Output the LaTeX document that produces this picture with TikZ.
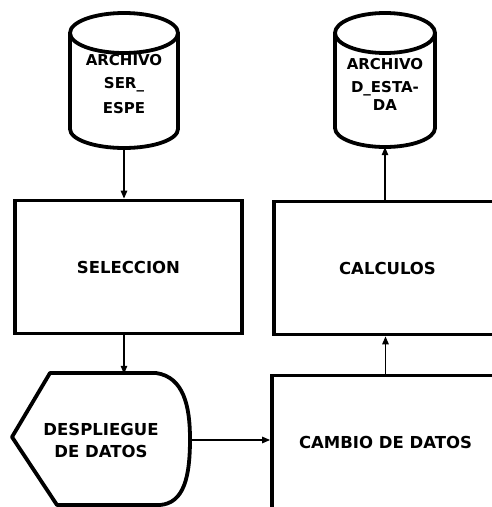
\documentclass[tikz,border=0pt]{standalone}
\usepackage{fontspec}
\setmainfont{DejaVu Sans}
\usetikzlibrary{arrows.meta}
\begin{document}
\begin{tikzpicture}[x=1pt,y=1pt,
  shapeline/.style={line width=3.8pt, line join=round},
  boxnode/.style={draw, line width=3.8pt, minimum width=227pt, minimum height=133pt, inner sep=0pt,
     font=\fontsize{16.5}{20}\selectfont\bfseries, align=center},
  ghost/.style={inner sep=0pt, font=\fontsize{16.5}{20}\selectfont\bfseries, align=center},
  cyltext/.style={inner sep=0pt, font=\fontsize{15}{19}\selectfont\bfseries, align=center},
  conn/.style={line width=1.3pt, -{Triangle[length=8pt,width=6.5pt]}}]
\useasboundingbox (0,0) rectangle (492,507);
\clip (0,0) rectangle (492,507);
% cylinder 1
\draw[shapeline] (124,474) ellipse [x radius=54, y radius=20];
\draw[shapeline] (70,474) -- (70,378) arc [start angle=180, end angle=360, x radius=54, y radius=19] -- (178,474);
\node[cyltext, minimum width=108pt, minimum height=135pt] (cyl1) at (124,426.5) {};
\node[cyltext] (t1) at (124,423) {ARCHIVO\\[4pt]SER\_\\[6pt]ESPE};
% cylinder 2
\draw[shapeline] (385,474) ellipse [x radius=50, y radius=20];
\draw[shapeline] (335,474) -- (335,379) arc [start angle=180, end angle=360, x radius=50, y radius=19] -- (435,474);
\node[cyltext, minimum width=100pt, minimum height=134pt] (cyl2) at (385,427) {};
\node[cyltext] (t2) at (385,423) {ARCHIVO\\[4pt]D\_ESTA-\\[-1pt]DA};
% boxes
\node[boxnode] (sel) at (128.5,240) {SELECCION};
\node[boxnode] (calc) at (387.5,239) {CALCULOS};
\node[boxnode] (cam) at (385.5,65) {CAMBIO DE DATOS};
% display hexagon
\draw[shapeline] (50,134) -- (156,134) .. controls (184,130) and (190,100) .. (190,68)
  .. controls (190,30) and (184,4) .. (160,2) -- (57,2) -- (12,70) -- cycle;
\node[ghost, minimum width=178pt, minimum height=132pt] (hex) at (101,67) {DESPLIEGUE\\[2pt]DE DATOS};
% connectors
\draw[conn] (cyl1.south) -- (cyl1.south |- sel.north);
\draw[conn] (sel.south -| cyl1.south) -- (cyl1.south |- hex.north);
\draw[conn] (hex.east) -- (hex.east -| cam.west);
\draw[conn] (cam.north) -- (cam.north |- calc.south);
\draw[conn] (calc.north -| cyl2.south) -- (cyl2.south);
\end{tikzpicture}
\end{document}
